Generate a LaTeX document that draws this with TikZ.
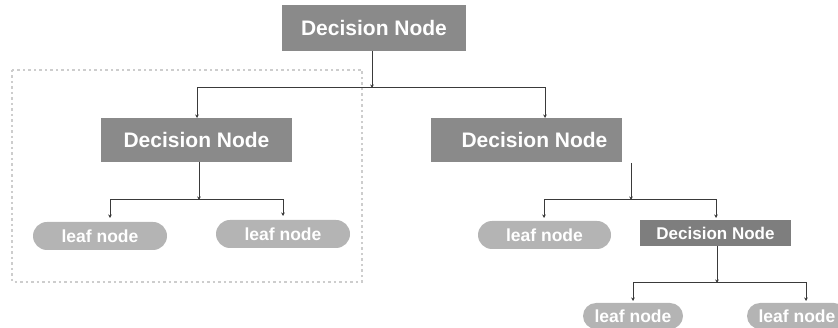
\documentclass[tikz,border=0pt]{standalone}
\usepackage{fontspec}
\setmainfont{Liberation Sans}
\usetikzlibrary{arrows.meta,shapes.misc}
\definecolor{decfill}{HTML}{8A8A8A}
\definecolor{decdark}{HTML}{7E7E7E}
\definecolor{leaffill}{HTML}{B4B4B4}
\definecolor{wire}{HTML}{3A3A3A}
\definecolor{framegray}{HTML}{CDCDCD}
\tikzset{
  decbox/.style={draw=none, fill=decfill, text=white, font=\fontsize{21}{24}\selectfont\bfseries,
    inner sep=0pt, minimum width=191pt, minimum height=44pt},
  smalldec/.style={draw=none, fill=decdark, text=white, font=\fontsize{17}{20}\selectfont\bfseries,
    inner sep=0pt, minimum width=151pt, minimum height=26pt},
  leafbox/.style={rounded rectangle, draw=none, fill=leaffill, text=white,
    font=\fontsize{17.5}{20}\selectfont\bfseries, inner sep=0pt,
    minimum width=134pt, minimum height=28pt},
  wireline/.style={draw=wire, line width=1pt},
  tip/.style={wireline, -{Stealth[length=3.5pt,width=3.5pt]}},
}
\begin{document}
\begin{tikzpicture}[x=1pt,y=-1pt]
  \useasboundingbox (0,0) rectangle (838,328);
  % grouped subtree frame
  \draw[framegray, line width=2.5pt, dash pattern=on 2.5pt off 3pt] (12,70) rectangle (362,282);

  % nodes
  \node[decbox, minimum width=184pt, minimum height=46pt] (root) at (374,28) {Decision Node};
  \node[decbox] (ldec) at (196.5,140) {Decision Node};
  \node[decbox] (rdec) at (526.5,140) {\hspace*{16pt}Decision Node};
  \node[leafbox] (leafa) at (100,236) {leaf node};
  \node[leafbox] (leafb) at (283,234) {leaf node};
  \node[leafbox, minimum width=133pt] (leafc) at (544.5,235) {leaf node};
  \node[smalldec] (sdec) at (715.5,233) {Decision Node};
  \node[leafbox, minimum width=100pt, minimum height=26pt] (leafd) at (633,316) {leaf node};
  \node[leafbox, minimum width=100pt, minimum height=26pt] (leafe) at (797,316) {leaf node};

  % junctions and arrow ends
  \coordinate (j1) at (372,88);
  \coordinate (ldin) at (197,118);
  \coordinate (rdin) at (545,118);
  \coordinate (j2top) at (199,162);
  \coordinate (j2) at (199,200);
  \coordinate (la) at (110,218);
  \coordinate (lb) at (283,216);
  \coordinate (j3top) at (631,163);
  \coordinate (j3) at (631,200);
  \coordinate (lc) at (544,218);
  \coordinate (ls) at (716,218);
  \coordinate (j4top) at (717,246);
  \coordinate (j4) at (717,283);
  \coordinate (ld) at (633,301);
  \coordinate (le) at (806,301);

  % connectors
  \draw[tip] (root.south -| j1) -- (j1);
  \draw[tip] (j1) -| (ldin);
  \draw[tip] (j1) -| (rdin);

  \draw[tip] (j2top) -- (j2);
  \draw[tip] (j2) -| (la);
  \draw[tip] (j2) -| (lb);

  \draw[tip] (j3top) -- (j3);
  \draw[tip] (j3) -| (lc);
  \draw[tip] (j3) -| (ls);

  \draw[tip] (j4top) -- (j4);
  \draw[tip] (j4) -| (ld);
  \draw[tip] (j4) -| (le);
\end{tikzpicture}
\end{document}
